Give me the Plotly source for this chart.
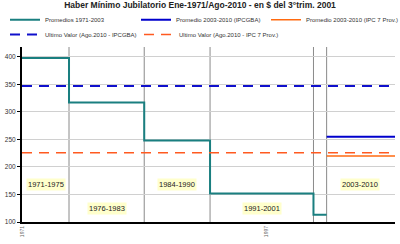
import plotly.graph_objects as go

title = "Haber Mínimo Jubilatorio Ene-1971/Ago-2010 - en $ del 3°trim. 2001"
step_x = [1971, 1976, 1984, 1991, 2002, 2003.4]
step_y = [398, 317, 248, 152, 113, 113]
x_start, x_end = 1971, 2010.67
avg_start = 2003.4
avg_ipcgba = 255
avg_ipc7 = 220
last_ipcgba = 347
last_ipc7 = 226
dividers = [1976, 1984, 1991, 2002, 2003.4]
period_labels = ["1971-1975", "1976-1983", "1984-1990", "1991-2001", "2003-2010"]
period_x = [1973.5, 1980, 1987.5, 1996.5, 2007]
period_y = [169, 125, 169, 125, 169]
tick_years = [1971, 1997]
names = ["Promedios 1971-2003", "Promedio 2003-2010 (IPCGBA)", "Promedio 2003-2010 (IPC 7 Prov.)",
         "Ultimo Valor (Ago.2010 - IPCGBA)", "Ultimo Valor (Ago.2010 - IPC 7 Prov.)"]

fig = go.Figure()
fig.add_trace(go.Scatter(x=step_x, y=step_y, mode="lines", line=dict(shape="hv", color="#1a7f80", width=2), name=names[0], legend="legend"))
fig.add_trace(go.Scatter(x=[avg_start, x_end], y=[avg_ipcgba]*2, mode="lines", line=dict(color="#0000cc", width=2), name=names[1], legend="legend2"))
fig.add_trace(go.Scatter(x=[avg_start, x_end], y=[avg_ipc7]*2, mode="lines", line=dict(color="#ff6a10", width=1.5), name=names[2], legend="legend3"))
fig.add_trace(go.Scatter(x=[x_start, x_end], y=[last_ipcgba]*2, mode="lines", line=dict(color="#1010cc", width=2, dash="10px,7px"), name=names[3], legend="legend4"))
fig.add_trace(go.Scatter(x=[x_start, x_end], y=[last_ipc7]*2, mode="lines", line=dict(color="#ff5a20", width=1.5, dash="10px,7px"), name=names[4], legend="legend5"))

for d in dividers:
    fig.add_shape(type="line", x0=d, x1=d, y0=0, y1=1, yref="paper", xref="x",
                  line=dict(color="#8a8a8a", width=1), layer="below")

for t, x, y in zip(period_labels, period_x, period_y):
    fig.add_annotation(x=x, y=y, text=t, showarrow=False, bgcolor="#ffffcc",
                       font=dict(size=7.5, color="#222", family="Liberation Sans"), borderpad=1)

leg_common = dict(orientation="h", xref="container", yref="container",
                  xanchor="left", yanchor="top", itemwidth=30,
                  font=dict(size=6, color="#333"), bgcolor="rgba(0,0,0,0)")

fig.update_layout(
    width=400, height=244,
    margin=dict(l=22, r=5, t=47, b=22, autoexpand=False),
    paper_bgcolor="white", plot_bgcolor="white",
    title=dict(text="<b>" + title + "</b>", x=0.5, xanchor="center", xref="container",
               y=0.99, yanchor="top",
               font=dict(size=8.5, color="#222", family="Liberation Sans")),
    font=dict(family="Liberation Sans", size=6.5, color="#333"),
    legend=dict(leg_common, x=5/400, y=0.978),
    legend2=dict(leg_common, x=136/400, y=0.978),
    legend3=dict(leg_common, x=266/400, y=0.978),
    legend4=dict(leg_common, x=5/400, y=0.918),
    legend5=dict(leg_common, x=139/400, y=0.918),
    showlegend=True,
)
fig.update_xaxes(range=[x_start, x_end], tickvals=tick_years, ticktext=[str(t) for t in tick_years],
                 tickangle=-90, tickfont=dict(size=5, color="#666"), showgrid=False,
                 showline=True, linecolor="black", linewidth=2, zeroline=False)
fig.update_yaxes(range=[100, 418], tickvals=[100, 150, 200, 250, 300, 350, 400],
                 showgrid=True, gridcolor="#d0d0d0", gridwidth=1,
                 showline=True, linecolor="black", linewidth=2, ticks="outside", ticklen=3,
                 tickcolor="black", tickfont=dict(size=6.5, color="#333"), zeroline=False)

fig.write_html("out.html")
